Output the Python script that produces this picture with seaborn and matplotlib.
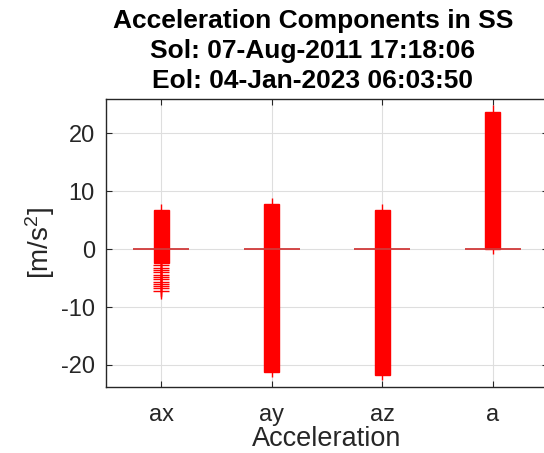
import matplotlib
matplotlib.use("Agg")
import matplotlib.pyplot as plt
import numpy as np
import pandas as pd
import seaborn as sns

# Summary statistics of each acceleration component [m/s^2]
components = ["ax", "ay", "az", "a"]
whisker_low = [-8.2, -22.1, -22.6, -0.9]
q1 = [-2.4, -21.2, -21.7, 0.0]
medians = [0.0, 0.0, 0.0, 0.0]
q3 = [6.7, 7.8, 6.7, 23.6]
whisker_high = [7.7, 8.8, 7.8, 24.8]
ax_outliers = [-2.8, -3.2, -3.6, -4.0, -4.4, -4.8, -5.2, -5.6, -6.0, -6.4, -6.8, -7.2]
y_ticks = [-20, -10, 0, 10, 20]

title = ("Acceleration Components in SS\n"
         "Sol: 07-Aug-2011 17:18:06\n"
         "Eol: 04-Jan-2023 06:03:50")

sns.set_theme(style="whitegrid")
plt.rcParams["font.family"] = ["Liberation Sans", "DejaVu Sans"]
plt.rcParams["axes.unicode_minus"] = False
plt.rcParams["mathtext.fontset"] = "custom"
plt.rcParams["mathtext.rm"] = "Liberation Sans"
plt.rcParams["mathtext.it"] = "Liberation Sans"

# Five-number table per component: with whiskers at min/max, the quartiles
# and whisker ends of each box are exactly the listed statistics.
rows = []
for name, lo, a, m, b, hi in zip(components, whisker_low, q1, medians, q3, whisker_high):
    for v in (lo, a, m, b, hi):
        rows.append({"component": name, "value": v})
df = pd.DataFrame(rows)

fig = plt.figure(figsize=(5.44, 4.53), dpi=100)
ax = fig.add_axes([106 / 544, 66 / 453, 442 / 544, 288 / 453])

sns.boxplot(data=df, x="component", y="value", order=components,
            whis=(0, 100), width=0.136, color="red", linecolor="red",
            saturation=1, linewidth=1, showcaps=False,
            medianprops={"visible": False}, ax=ax)

# wide median markers
pos = np.arange(len(components))
ax.hlines(medians, pos - 0.253, pos + 0.253, color="#d03a3a", lw=1.3, zorder=3)

# outliers of the x component
sns.stripplot(x=["ax"] * len(ax_outliers), y=ax_outliers, order=components,
              jitter=False, marker="+", size=11, color="red", linewidth=1,
              ax=ax, zorder=4)

ax.set_xlim(-0.5, 3.5)
ax.set_ylim(-23.8, 25.9)
ax.set_yticks(y_ticks)
ax.set_yticklabels([str(t) for t in y_ticks])

ax.grid(True, color="#dedede", lw=0.8)
ax.set_axisbelow(True)
for s in ax.spines.values():
    s.set_color("#262626")
    s.set_linewidth(1.0)

ax.tick_params(axis="both", direction="in", length=4, width=0.8,
               bottom=True, left=True, top=True, right=True,
               colors="#262626", labelsize=17)
ax.tick_params(axis="y", pad=8)
ax.tick_params(axis="x", pad=12)

ax.set_xlabel("Acceleration", fontsize=19.5, color="#262626", labelpad=0)
ax.set_ylabel("[m/s$^{2}$]", fontsize=20, color="#262626", labelpad=3)
ax.set_title(title, fontsize=19, fontweight="bold", x=0.468, pad=8,
             linespacing=1.32, color="black")

fig.savefig("out.png", dpi=100)
